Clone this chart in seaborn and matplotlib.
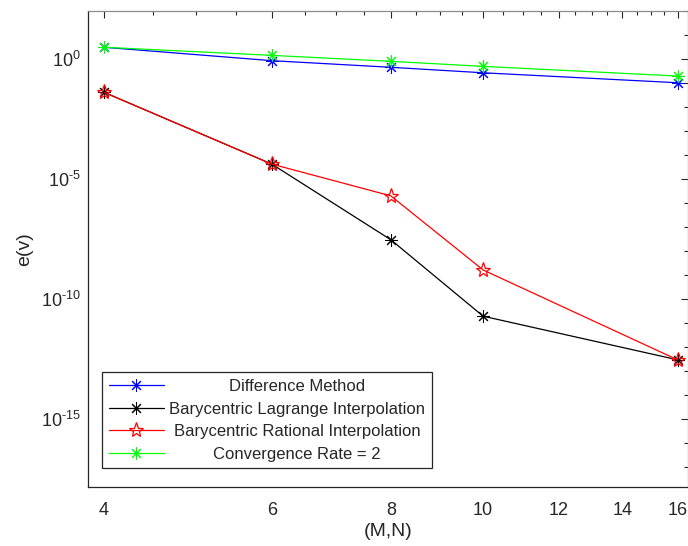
import numpy as np
import pandas as pd
import matplotlib
matplotlib.use("Agg")
import matplotlib.pyplot as plt
import seaborn as sns
from matplotlib.ticker import FixedLocator, FixedFormatter, NullFormatter

# ---- data ----
grid_sizes = [4, 6, 8, 10, 16]
difference_method = [3.0, 0.83, 0.44, 0.26, 0.10]
bary_lagrange = [0.04, 4.1e-5, 2.9e-8, 1.9e-11, 2.9e-13]
bary_rational = [0.04, 4.1e-5, 1.95e-6, 1.6e-9, 2.9e-13]
convergence_rate = [3.0, 1.38, 0.78, 0.48, 0.19]
series_labels = ["Difference Method", "Barycentric Lagrange Interpolation",
                 "Barycentric Rational Interpolation", "Convergence Rate = 2"]
x_ticks = [4, 6, 8, 10, 12, 14, 16]
y_ticks = [1e-15, 1e-10, 1e-5, 1e0]
y_tick_exps = ["-15", "-10", "-5", "0"]

sns.set_theme(style="white")
plt.rcParams['font.family'] = ['Liberation Sans', 'DejaVu Sans']
plt.rcParams['mathtext.fontset'] = 'custom'
plt.rcParams['mathtext.rm'] = 'Liberation Sans'
plt.rcParams['mathtext.it'] = 'Liberation Sans'
plt.rcParams['mathtext.default'] = 'regular'
plt.rcParams['axes.unicode_minus'] = False

FS_TICK = 13
FS_LAB = 14
FS_LEG = 12
fig = plt.figure(figsize=(6.88, 5.46), dpi=100)
W, H = 688, 546
ax_l, ax_r, ax_t, ax_b = 88, 687.6, 10.7, 486.7
ax = fig.add_axes([ax_l / W, 1 - ax_b / H, (ax_r - ax_l) / W, (ax_b - ax_t) / H])

ast = (8, 2, 0)
specs = [
    (difference_method, "#0000ff", ast, dict(markerfacecolor="#0000ff", markeredgecolor="#0000ff", markersize=9)),
    (bary_lagrange, "#000000", ast, dict(markerfacecolor="#000000", markeredgecolor="#000000", markersize=9)),
    (bary_rational, "#ff0000", "*", dict(markerfacecolor="none", markeredgecolor="#ff0000", markersize=11, markeredgewidth=0.9)),
    (convergence_rate, "#00ff00", ast, dict(markerfacecolor="#00ff00", markeredgecolor="#00ff00", markersize=9)),
]
for (vals, col, mk, kw), lab in zip(specs, series_labels):
    d = pd.DataFrame({"N": grid_sizes, "e": vals})
    sns.lineplot(data=d, x="N", y="e", ax=ax, color=col, marker=mk, linewidth=0.9,
                 estimator=None, sort=False, label=lab, **kw)

ax.set_xscale("log")
ax.set_yscale("log")
ax.set_xlim(3.848, 16.39)
ax.set_ylim(10 ** -17.82, 1e2)

ax.xaxis.set_major_locator(FixedLocator(x_ticks))
ax.xaxis.set_major_formatter(FixedFormatter([str(t) for t in x_ticks]))
minor_x = [v for v in np.arange(4.5, 16.01, 0.5) if v not in x_ticks]
ax.xaxis.set_minor_locator(FixedLocator(minor_x))
ax.xaxis.set_minor_formatter(NullFormatter())

ax.yaxis.set_major_locator(FixedLocator(y_ticks))
ax.yaxis.set_major_formatter(FixedFormatter(
    [r"$\mathregular{10^{%s}}$" % e.replace("-", "\u2010") for e in y_tick_exps]))
minor_y = [10.0 ** k for k in range(-17, 3) if 10.0 ** k not in y_ticks]
ax.yaxis.set_minor_locator(FixedLocator(minor_y))
ax.yaxis.set_minor_formatter(NullFormatter())

dark = "#262626"
ax.tick_params(axis="both", which="both", direction="in", top=True, right=True,
               colors=dark, labelcolor="#262626", labelsize=FS_TICK, width=0.8)
ax.tick_params(axis="both", which="major", length=5)
ax.tick_params(axis="both", which="minor", length=3)
ax.tick_params(axis="x", which="both", pad=11)
ax.tick_params(axis="y", which="both", pad=5)
for s in ["left", "bottom"]:
    ax.spines[s].set_color(dark)
    ax.spines[s].set_linewidth(0.9)
for s in ["top", "right"]:
    ax.spines[s].set_color("#8c8c8c")
    ax.spines[s].set_linewidth(0.9)

ax.set_xlabel("(M,N)", fontsize=FS_LAB, color=dark, va="center")
ax.set_ylabel("e(v)", fontsize=FS_LAB, color=dark, va="center", ha="center")
ax.xaxis.set_label_coords(0.5, (ax_b - 531) / (ax_b - ax_t))
ax.yaxis.set_label_coords((24.5 - ax_l) / (ax_r - ax_l), 0.5)

leg = ax.legend(loc="lower left",
                bbox_to_anchor=((102.3 - ax_l) / (ax_r - ax_l), (ax_b - 468.3) / (ax_b - ax_t)),
                borderaxespad=0, fontsize=FS_LEG, handlelength=3.3, handletextpad=0.3,
                labelspacing=0.45, borderpad=0.4, fancybox=False, framealpha=1,
                edgecolor=dark)
leg.get_frame().set_linewidth(0.9)

fig.canvas.draw()
r = fig.canvas.get_renderer()
texts = leg.get_texts()
widths = [t.get_window_extent(r).width for t in texts]
mw = max(widths)
for t, w in zip(texts, widths):
    t.set_position(((mw - w) / 2.0, 0))

fig.savefig("out.png", dpi=100)
